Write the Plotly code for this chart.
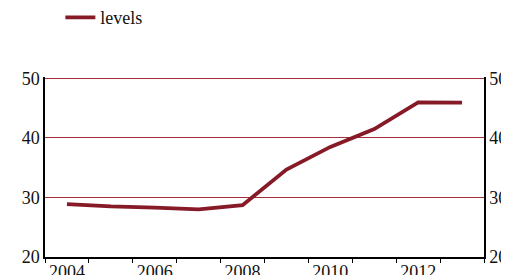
import plotly.graph_objects as go

years = [2004, 2005, 2006, 2007, 2008, 2009, 2010, 2011, 2012, 2013]
levels = [28.9, 28.5, 28.3, 28.0, 28.7, 34.7, 38.5, 41.5, 46.0, 45.95]
y_ticks = [20, 30, 40, 50]
x_labels = [2004, 2006, 2008, 2010, 2012]

LINE = "#861a27"
GRID = "#a3303d"
FONT = dict(family="Liberation Serif, Times New Roman, serif", size=18, color="#111111")

fig = go.Figure()
fig.add_trace(go.Scatter(x=years, y=levels, mode="lines", name="levels",
                         line=dict(color=LINE, width=3.8)))
fig.add_trace(go.Scatter(x=years, y=levels, mode="lines", yaxis="y2",
                         showlegend=False, hoverinfo="skip",
                         line=dict(color="rgba(0,0,0,0)", width=0)))

fig.update_layout(
    width=509, height=275,
    margin=dict(l=37, r=33, t=69, b=26, autoexpand=False),
    paper_bgcolor="white", plot_bgcolor="white",
    font=FONT,
    showlegend=True,
    legend=dict(orientation="h", x=0.035, y=1.33, xanchor="left", yanchor="middle",
                font=FONT, bgcolor="rgba(0,0,0,0)"),
    xaxis=dict(range=[2003.5, 2013.5], tickmode="array", tickvals=x_labels,
               ticktext=[str(v) for v in x_labels], ticks="", showgrid=False,
               showline=True, linecolor="black", linewidth=1.5, zeroline=False,
               ticklabelstandoff=-2,
               minor=dict(tickmode="linear", tick0=2003.5, dtick=1, ticks="outside",
                          ticklen=4, tickcolor="black", tickwidth=1, showgrid=False)),
    yaxis=dict(range=[20, 50.25], tickvals=y_ticks, showgrid=True, gridcolor=GRID,
               gridwidth=1, showline=True, linecolor="black", linewidth=1.5,
               ticks="", zeroline=False),
    yaxis2=dict(range=[20, 50.25], tickvals=y_ticks, overlaying="y", side="right",
                showgrid=False, showline=True, linecolor="black", linewidth=1.5,
                ticks="", zeroline=False, ticklabelstandoff=0),
)

fig.write_html("out.html")
